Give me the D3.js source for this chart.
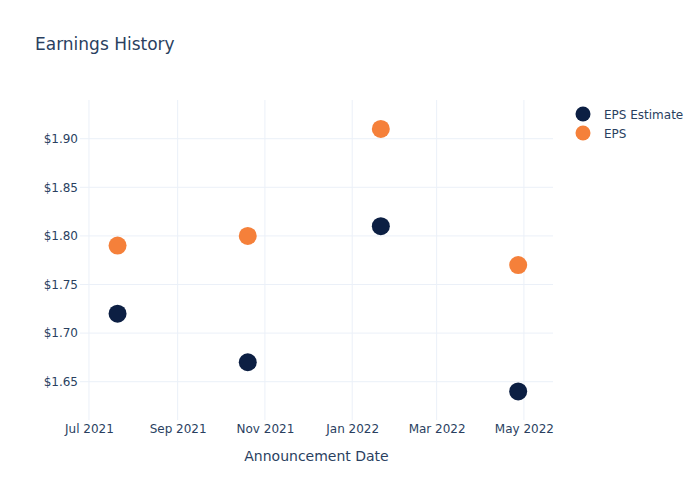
<!DOCTYPE html>
<html><head><meta charset="utf-8">
<script src="https://cdn.jsdelivr.net/npm/d3@7"></script>
<style>body{margin:0;background:#fff}svg{display:block;font-family:"DejaVu Sans",Verdana,sans-serif}</style>
</head><body><svg id="c" width="700" height="500"></svg>
<script>
const dates = ["2021-07-21","2021-10-20","2022-01-21","2022-04-27"];
const epsEstimate = [1.72, 1.67, 1.81, 1.64];
const eps = [1.79, 1.80, 1.91, 1.77];
const yTicks = [1.65, 1.70, 1.75, 1.80, 1.85, 1.90];
const xTicks = ["2021-07-01","2021-09-01","2021-11-01","2022-01-01","2022-03-01","2022-05-01"];
const seriesNames = ["EPS Estimate","EPS"];
const colors = ["#0c1f43","#f5803a"];

const parse = d3.utcParse("%Y-%m-%d");
const svg = d3.select("#c");
const L=80, R=553, T=100, B=420;
const x = d3.scaleUtc().domain([new Date(Date.UTC(2021,5,24,18)), new Date(Date.UTC(2022,4,21,8))]).range([L,R]);
const y = d3.scaleLinear().domain([1.6106,1.9398]).range([B,T]);
const text="#2a3f5f", grid="#ebf0f8";

// grid
svg.append("g").selectAll("line").data(yTicks).join("line")
  .attr("x1",L).attr("x2",R).attr("y1",d=>y(d)).attr("y2",d=>y(d)).attr("stroke",grid);
svg.append("g").selectAll("line").data(xTicks).join("line")
  .attr("x1",d=>x(parse(d))).attr("x2",d=>x(parse(d))).attr("y1",T).attr("y2",B).attr("stroke",grid);

// axes
const ya = svg.append("g").attr("transform",`translate(${L},0)`)
  .call(d3.axisLeft(y).tickValues(yTicks).tickFormat(d=>"$"+d3.format(".2f")(d)).tickSize(0).tickPadding(2));
ya.select(".domain").remove();
ya.selectAll("text").attr("fill",text).style("font-size","12px").style("font-family","DejaVu Sans");
const xa = svg.append("g").attr("transform",`translate(0,${B})`)
  .call(d3.axisBottom(x).tickValues(xTicks.map(parse)).tickFormat(d3.utcFormat("%b %Y")).tickSize(0).tickPadding(4));
xa.select(".domain").remove();
xa.selectAll("text").attr("fill",text).style("font-size","12px").style("font-family","DejaVu Sans");

// points
[epsEstimate, eps].forEach((vals,i)=>{
  svg.append("g").selectAll("circle").data(vals).join("circle")
    .attr("cx",(d,j)=>x(parse(dates[j]))).attr("cy",d=>y(d)).attr("r",9)
    .attr("fill",colors[i]);
});

// title
svg.append("text").attr("x",35).attr("y",50).text("Earnings History")
  .attr("fill",text).style("font-size","17px");
svg.append("text").attr("x",(L+R)/2).attr("y",461).attr("text-anchor","middle")
  .text("Announcement Date").attr("fill",text).style("font-size","14px");

// legend
const lg = svg.append("g");
seriesNames.forEach((n,i)=>{
  lg.append("circle").attr("cx",583).attr("cy",114+i*19).attr("r",7.5).attr("fill",colors[i]);
  lg.append("text").attr("x",604).attr("y",118.5+i*19).text(n).attr("fill",text).style("font-size","12px");
});
</script></body></html>
